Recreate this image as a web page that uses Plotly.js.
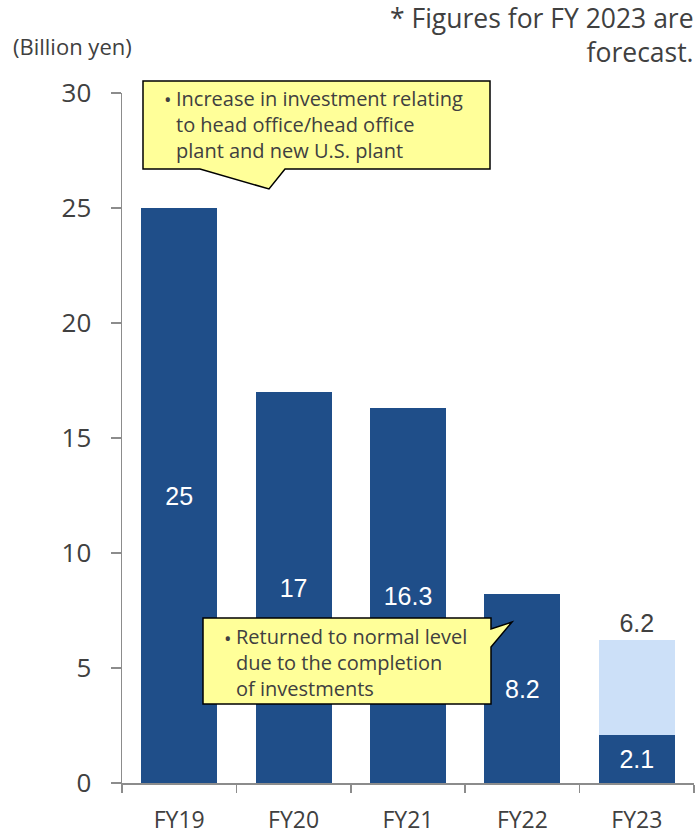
<!DOCTYPE html>
<html>
<head>
<meta charset="utf-8">
<script src="https://cdn.plot.ly/plotly-3.0.1.min.js"></script>
<style>html,body{margin:0;padding:0;background:#fff;}#chart{width:697px;height:835px;}</style>
</head>
<body>
<div id="chart"></div>
<script>
// ---- data ----
const categories = ["FY19", "FY20", "FY21", "FY22", "FY23"];
const actualValues = [25, 17, 16.3, 8.2, 2.1];
const forecastTotals = [null, null, null, null, 6.2];
const actualLabels = ["25", "17", "16.3", "8.2", "2.1"];
const forecastLabels = ["", "", "", "", "6.2"];
const yTicks = [0, 5, 10, 15, 20, 25, 30];

// ---- layout helpers ----
const W = 697, H = 835;
const L = 122, R = 694, T = 93, B = 783;
const px = x => (x - L) / (R - L);
const py = y => (B - y) / (B - T);
function pathFromPixels(pts) {
  return "M" + pts.map(p => px(p[0]).toFixed(5) + "," + py(p[1]).toFixed(5)).join(" L") + " Z";
}

const darkBlue = "#1F4E89";
const lightBlue = "#CCE0F8";
const textGray = "#404040";
const axisGray = "#8c8c8c";
const uiFont = "Open Sans, Noto Sans, sans-serif";
const numFont = "Liberation Sans, Arial, sans-serif";

const forecastExtra = forecastTotals.map((t, i) => t === null ? null : +(t - actualValues[i]).toFixed(2));

const traces = [
  {
    type: "bar", x: categories, y: actualValues,
    marker: {color: darkBlue},
    text: actualLabels, textposition: "inside", insidetextanchor: "middle",
    textfont: {family: numFont, size: 25, color: "#ffffff"},
    hoverinfo: "skip", showlegend: false
  },
  {
    type: "bar", x: categories, y: forecastExtra,
    marker: {color: lightBlue},
    text: forecastLabels, textposition: "outside",
    outsidetextfont: {family: numFont, size: 25, color: textGray},
    cliponaxis: false,
    hoverinfo: "skip", showlegend: false
  }
];

const callout1 = pathFromPixels([[143,81],[490,81],[490,169],[285,169],[269,189],[200,169],[143,169]]);
const callout2 = pathFromPixels([[203,618],[491,618],[491,629],[512,622],[491,647],[491,704],[203,704]]);

const annFont = {family: uiFont, size: 20, color: textGray};

const layout = {
  width: W, height: H,
  margin: {l: L, r: W - R, t: T, b: H - B, pad: 0},
  paper_bgcolor: "#ffffff", plot_bgcolor: "#ffffff",
  barmode: "stack", bargap: 0.335,
  font: {family: uiFont, color: textGray},
  xaxis: {
    type: "category", tickson: "boundaries",
    ticks: "outside", ticklen: 8, tickwidth: 1.5, tickcolor: axisGray,
    showline: true, linecolor: axisGray, linewidth: 1.5,
    showgrid: false, zeroline: false,
    tickfont: {family: uiFont, size: 23, color: textGray},
    ticklabelstandoff: 16,
    fixedrange: true
  },
  yaxis: {
    range: [0, 30], tickvals: yTicks,
    ticks: "outside", ticklen: 10, tickwidth: 1.5, tickcolor: axisGray,
    showline: true, linecolor: axisGray, linewidth: 1.5,
    showgrid: false, zeroline: false,
    tickfont: {family: uiFont, size: 26, color: textGray},
    ticklabelstandoff: 14,
    fixedrange: true
  },
  shapes: [
    {type: "path", xref: "paper", yref: "paper", path: callout1, fillcolor: "#FFFF99", line: {color: "#000000", width: 1.5}, layer: "above"},
    {type: "path", xref: "paper", yref: "paper", path: callout2, fillcolor: "#FFFF99", line: {color: "#000000", width: 1.5}, layer: "above"}
  ],
  annotations: [
    {xref: "paper", yref: "paper", x: px(11), y: py(46), xanchor: "left", yanchor: "middle", showarrow: false,
     text: "(Billion yen)", font: {family: uiFont, size: 22, color: textGray}},
    {xref: "paper", yref: "paper", x: px(696), y: py(35), xanchor: "right", yanchor: "middle", showarrow: false, align: "right",
     text: "* Figures for FY 2023 are<br>forecast.", font: {family: uiFont, size: 26.5, color: textGray}},
    {xref: "paper", yref: "paper", x: px(162), y: py(100), xanchor: "left", yanchor: "middle", showarrow: false,
     text: "•", font: annFont},
    {xref: "paper", yref: "paper", x: px(174), y: py(124), xanchor: "left", yanchor: "middle", showarrow: false, align: "left",
     text: "Increase in investment relating<br>to head office/head office<br>plant and new U.S. plant", font: annFont},
    {xref: "paper", yref: "paper", x: px(222), y: py(638), xanchor: "left", yanchor: "middle", showarrow: false,
     text: "•", font: annFont},
    {xref: "paper", yref: "paper", x: px(234), y: py(662), xanchor: "left", yanchor: "middle", showarrow: false, align: "left",
     text: "Returned to normal level<br>due to the completion<br>of investments", font: annFont}
  ]
};

Plotly.newPlot("chart", traces, layout, {displayModeBar: false, staticPlot: true});
</script>
</body>
</html>
